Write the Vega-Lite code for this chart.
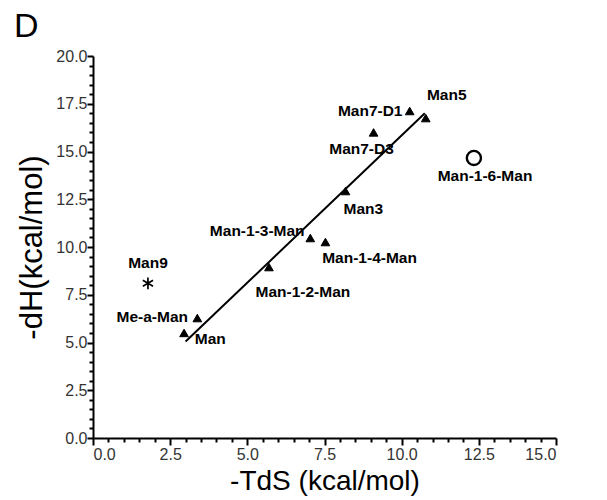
{
  "$schema": "https://vega.github.io/schema/vega-lite/v6.json",
  "width": 463,
  "height": 382,
  "autosize": "none",
  "padding": {"left": 93, "top": 56, "right": 51, "bottom": 62},
  "background": "white",
  "title": {"text": "D", "anchor": "start", "frame": "group", "dx": -79, "dy": 4, "fontSize": 34, "font": "Liberation Sans", "fontWeight": "normal", "color": "black", "offset": 8},
  "config": {
    "view": {"stroke": null},
    "axis": {"grid": false, "domainColor": "black", "domainWidth": 2, "tickColor": "black", "tickWidth": 2, "labelFont": "Liberation Sans", "labelFontSize": 16, "labelColor": "#333", "titleFont": "Liberation Sans", "titleFontWeight": "normal", "titleColor": "black"}
  },
  "resolve": {"axis": {"x": "independent", "y": "independent"}},
  "layer": [
    {
      "data": {"values": [{"x": 3.0, "y": 5.05}, {"x": 10.75, "y": 17.0}]},
      "mark": {"type": "line", "color": "black", "strokeWidth": 2},
      "encoding": {
        "x": {"field": "x", "type": "quantitative", "scale": {"domain": [0, 15], "nice": false, "zero": false}, "axis": {"orient": "bottom", "values": [0, 2.5, 5, 7.5, 10, 12.5, 15], "format": ".1f", "tickSize": 7, "labelPadding": 1, "title": "-TdS (kcal/mol)", "titleFontSize": 28, "titlePadding": 5}},
        "y": {"field": "y", "type": "quantitative", "scale": {"domain": [0, 20], "nice": false, "zero": false}, "axis": {"orient": "left", "values": [0, 2.5, 5, 7.5, 10, 12.5, 15, 17.5, 20], "format": ".1f", "tickSize": 6, "labelPadding": 0, "title": "-dH(kcal/mol)", "titleFontSize": 31, "titlePadding": 7}}
      }
    },
    {
      "data": {"values": [
        {"name": "Man", "x": 2.95, "y": 5.5, "type": "tri"},
        {"name": "Me-a-Man", "x": 3.38, "y": 6.28, "type": "tri"},
        {"name": "Man9", "x": 1.78, "y": 8.1, "type": "star"},
        {"name": "Man-1-2-Man", "x": 5.7, "y": 8.95, "type": "tri"},
        {"name": "Man-1-3-Man", "x": 7.04, "y": 10.47, "type": "tri"},
        {"name": "Man-1-4-Man", "x": 7.53, "y": 10.26, "type": "tri"},
        {"name": "Man3", "x": 8.18, "y": 12.93, "type": "tri"},
        {"name": "Man7-D3", "x": 9.09, "y": 16.0, "type": "tri"},
        {"name": "Man7-D1", "x": 10.26, "y": 17.12, "type": "tri"},
        {"name": "Man5", "x": 10.78, "y": 16.75, "type": "tri"},
        {"name": "Man-1-6-Man", "x": 12.34, "y": 14.66, "type": "circle"}
      ]},
      "mark": {"type": "point", "strokeWidth": 1.8, "opacity": 1},
      "encoding": {
        "x": {"field": "x", "type": "quantitative", "axis": {"orient": "bottom", "values": [0.5, 1, 1.5, 2, 3, 3.5, 4, 4.5, 5.5, 6, 6.5, 7, 8, 8.5, 9, 9.5, 10.5, 11, 11.5, 12, 13, 13.5, 14, 14.5], "labels": false, "domain": false, "tickSize": 4, "title": null}},
        "y": {"field": "y", "type": "quantitative", "axis": {"orient": "left", "values": [0.5, 1, 1.5, 2, 3, 3.5, 4, 4.5, 5.5, 6, 6.5, 7, 8, 8.5, 9, 9.5, 10.5, 11, 11.5, 12, 13, 13.5, 14, 14.5, 15.5, 16, 16.5, 17, 18, 18.5, 19, 19.5], "labels": false, "domain": false, "tickSize": 4, "title": null}},
        "shape": {"field": "type", "type": "nominal", "scale": {"domain": ["tri", "star", "circle"], "range": ["triangle-up", "M0,-1L0,1M-0.87,-0.5L0.87,0.5M-0.87,0.5L0.87,-0.5", "circle"]}, "legend": null},
        "fill": {"field": "type", "type": "nominal", "scale": {"domain": ["tri", "star", "circle"], "range": ["black", "transparent", "transparent"]}, "legend": null},
        "stroke": {"value": "black"},
        "strokeWidth": {"field": "type", "type": "nominal", "scale": {"domain": ["tri", "star", "circle"], "range": [1, 2.4, 1.7]}, "legend": null},
        "size": {"field": "type", "type": "nominal", "scale": {"domain": ["tri", "star", "circle"], "range": [75, 200, 110]}, "legend": null}
      }
    },
    {
      "data": {"values": [
        {"label": "Man", "lx": 3.8, "ly": 5.18},
        {"label": "Me-a-Man", "lx": 1.92, "ly": 6.35},
        {"label": "Man9", "lx": 1.78, "ly": 9.15},
        {"label": "Man-1-2-Man", "lx": 6.8, "ly": 7.66},
        {"label": "Man-1-3-Man", "lx": 5.32, "ly": 10.84},
        {"label": "Man-1-4-Man", "lx": 8.96, "ly": 9.42},
        {"label": "Man3", "lx": 8.76, "ly": 11.99},
        {"label": "Man7-D3", "lx": 8.7, "ly": 15.11},
        {"label": "Man7-D1", "lx": 8.98, "ly": 17.1},
        {"label": "Man5", "lx": 11.46, "ly": 17.98},
        {"label": "Man-1-6-Man", "lx": 12.7, "ly": 13.73}
      ]},
      "mark": {"type": "text", "font": "Liberation Sans", "fontWeight": "bold", "fontSize": 15.5, "color": "black", "align": "center", "baseline": "middle"},
      "encoding": {
        "x": {"field": "lx", "type": "quantitative", "axis": null},
        "y": {"field": "ly", "type": "quantitative", "axis": null},
        "text": {"field": "label"}
      }
    }
  ]
}
